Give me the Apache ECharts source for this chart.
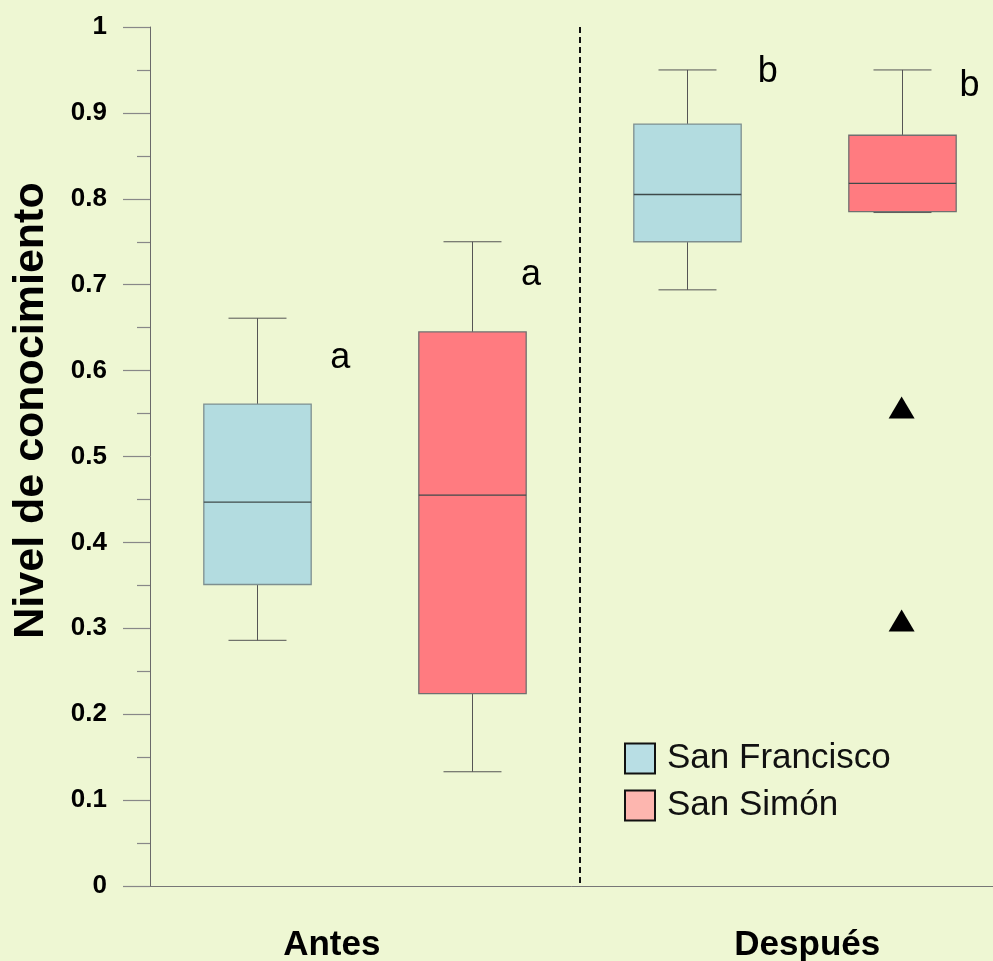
<!DOCTYPE html>
<html><head><meta charset="utf-8">
<script src="https://cdn.jsdelivr.net/npm/echarts@6/dist/echarts.min.js"></script>
<style>html,body{margin:0;padding:0;background:#EEF7D3}#c{width:993px;height:961px}</style>
</head><body><div id="c"></div>
<script>
// slots along the x axis (one box each)
const slots = ['SF-Antes', 'SS-Antes', 'SF-Después', 'SS-Después'];
const periods = ['Antes', 'Después'];
const seriesNames = ['San Francisco', 'San Simón'];
// [slotIndex, min, Q1, median, Q3, max]
const sanFrancisco = [
  [0, 0.286, 0.351, 0.447, 0.561, 0.661],
  [2, 0.694, 0.750, 0.805, 0.887, 0.950]
];
const sanSimon = [
  [1, 0.133, 0.224, 0.455, 0.645, 0.750],
  [3, 0.784, 0.785, 0.818, 0.874, 0.950]
];
// outliers [slotIndex, value]
const sanSimonOutliers = [[3, 0.557], [3, 0.309]];
// significance letters [slotIndex, value, letter]
const sigLetters = [[0, 0.615, 'a'], [1, 0.711, 'a'], [2, 0.948, 'b'], [3, 0.931, 'b']];
const yMin = 0, yMax = 1, yStep = 0.1;

const FONT = "'Liberation Sans', Arial, Helvetica, sans-serif";
const letterDx = [83, 59, 81, 68];

function boxRender(fill, stroke) {
  return function (params, api) {
    const x = api.value(0);
    const band = api.size([1, 0])[0];
    const bw = band * 0.5, cw = bw * 0.54;
    const pMin = api.coord([x, api.value(1)]);
    const pQ1 = api.coord([x, api.value(2)]);
    const pMed = api.coord([x, api.value(3)]);
    const pQ3 = api.coord([x, api.value(4)]);
    const pMax = api.coord([x, api.value(5)]);
    const cx = Math.round(pMin[0]) + 0.5;
    const ls = { stroke: '#555', lineWidth: 1 };
    return {
      type: 'group',
      children: [
        { type: 'line', shape: { x1: cx, y1: pMax[1], x2: cx, y2: pQ3[1] }, style: ls },
        { type: 'line', shape: { x1: cx, y1: pQ1[1], x2: cx, y2: pMin[1] }, style: ls },
        { type: 'line', shape: { x1: cx - cw / 2, y1: pMax[1], x2: cx + cw / 2, y2: pMax[1] }, style: ls },
        { type: 'line', shape: { x1: cx - cw / 2, y1: pMin[1], x2: cx + cw / 2, y2: pMin[1] }, style: ls },
        { type: 'rect', shape: { x: cx - bw / 2, y: pQ3[1], width: bw, height: pQ1[1] - pQ3[1] },
          style: { fill: fill, stroke: stroke, lineWidth: 1.3 } },
        { type: 'line', shape: { x1: cx - bw / 2, y1: pMed[1], x2: cx + bw / 2, y2: pMed[1] },
          style: { stroke: '#3f4a4a', lineWidth: 1.3 } }
      ]
    };
  };
}

const chart = echarts.init(document.getElementById('c'), null, { renderer: 'canvas' });
chart.setOption({
  backgroundColor: '#EEF7D3',
  animation: false,
  grid: { left: 150, width: 859, top: 27, height: 859, outerBoundsMode: 'none', containLabel: false },
  legend: {
    orient: 'vertical', left: 619, top: 736,
    itemWidth: 30, itemHeight: 30, itemGap: 12, icon: 'rect',
    selectedMode: false,
    textStyle: { fontSize: 35, color: '#111', fontFamily: FONT, lineHeight: 30, padding: [0, 0, 0, 7] },
    data: [
      { name: seriesNames[0], itemStyle: { color: '#B8DEE4', borderColor: '#111', borderWidth: 2 } },
      { name: seriesNames[1], itemStyle: { color: '#FDB6AF', borderColor: '#111', borderWidth: 2 } }
    ]
  },
  xAxis: [
    {
      type: 'category', data: slots, boundaryGap: true,
      axisLine: { show: true, lineStyle: { color: '#777', width: 1 } },
      axisTick: { show: false }, axisLabel: { show: false }, splitLine: { show: false }
    },
    {
      type: 'category', data: periods, boundaryGap: true, position: 'bottom',
      axisLine: { show: false }, axisTick: { show: false },
      splitLine: { show: true, showMinLine: false, showMaxLine: false,
        lineStyle: { color: '#111', width: 2, type: [6, 4] } },
      axisLabel: {
        margin: 42,
        formatter: function (v) { return v === 'Antes' ? '{a|' + v + '}' : '{b|' + v + '}'; },
        rich: {
          a: { fontSize: 35, fontWeight: 'bold', color: '#000', fontFamily: FONT, padding: [0, 66, 0, 0] },
          b: { fontSize: 35, fontWeight: 'bold', color: '#000', fontFamily: FONT, padding: [0, 0, 0, 26] }
        }
      }
    }
  ],
  yAxis: {
    type: 'value', min: yMin, max: yMax, interval: yStep,
    axisLine: { show: true, lineStyle: { color: '#6a6a6a', width: 1 } },
    axisTick: { show: true, length: 27, lineStyle: { color: '#888', width: 1.2 } },
    minorTick: { show: true, splitNumber: 2, length: 13, lineStyle: { color: '#888', width: 1.2 } },
    splitLine: { show: false },
    axisLabel: {
      margin: 43, fontSize: 26, fontWeight: 'bold', color: '#000', fontFamily: FONT,
      formatter: function (v) { return String(parseFloat(v.toFixed(1))); }
    },
    name: 'Nivel de conocimiento', nameLocation: 'middle', nameGap: 97,
    nameTextStyle: { fontSize: 43, fontWeight: 'bold', color: '#000', fontFamily: FONT, padding: [0, 0, 0, 92] }
  },
  series: [
    {
      name: seriesNames[0], type: 'custom', xAxisIndex: 0,
      itemStyle: { color: '#B8DEE4' },
      renderItem: boxRender('#B3DCE0', '#7E8F8F'),
      encode: { x: 0, y: [1, 5] }, data: sanFrancisco
    },
    {
      name: seriesNames[1], type: 'custom', xAxisIndex: 0,
      itemStyle: { color: '#FDB6AF' },
      renderItem: boxRender('#FF7B80', '#707070'),
      encode: { x: 0, y: [1, 5] }, data: sanSimon
    },
    {
      name: 'outliers', type: 'scatter', xAxisIndex: 0,
      symbol: 'triangle', symbolSize: [26, 22],
      itemStyle: { color: '#000', opacity: 1 }, data: sanSimonOutliers
    },
    {
      name: 'letters', type: 'custom', xAxisIndex: 0,
      renderItem: function (params, api) {
        const p = api.coord([api.value(0), api.value(1)]);
        return {
          type: 'text', x: p[0] + letterDx[params.dataIndex], y: p[1],
          style: { text: sigLetters[params.dataIndex][2], fontSize: 36, fontFamily: FONT,
            fill: '#000', align: 'center', verticalAlign: 'middle' }
        };
      },
      encode: { x: 0, y: 1 }, data: sigLetters
    }
  ]
});
</script>
</body></html>
